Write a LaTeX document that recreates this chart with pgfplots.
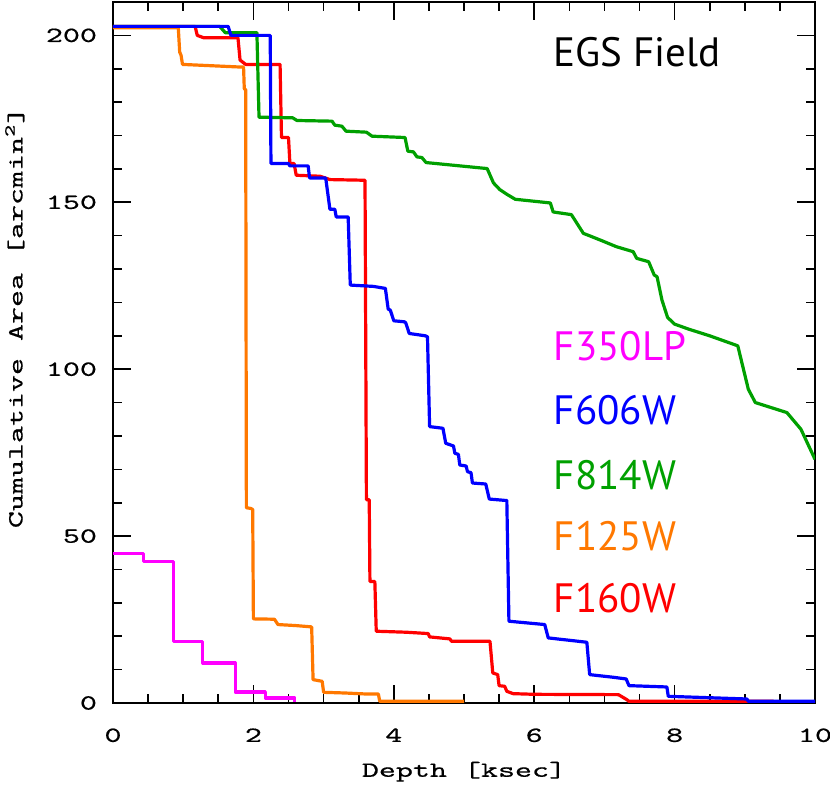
\documentclass[border=0pt]{standalone}
\usepackage{fontspec}
\setmainfont{PT Sans}
\newfontfamily\smfont{Latin Modern Mono}[FakeStretch=1.5, FakeBold=0.6]
\usepackage{pgfplots}
\pgfplotsset{compat=1.18}

\definecolor{cmag}{RGB}{255,0,255}
\definecolor{cblue}{RGB}{0,0,255}
\definecolor{cgreen}{RGB}{0,160,0}
\definecolor{corange}{RGB}{255,120,0}
\definecolor{cred}{RGB}{255,0,0}

\begin{document}
\begin{tikzpicture}
\begin{axis}[
    width=351pt, height=350.5pt, scale only axis,
    xmin=0, xmax=10, ymin=0, ymax=210,
    xtick={0,2,...,10}, minor x tick num=3,
    ytick={0,50,...,200}, minor y tick num=4,
    tick align=inside,
    major tick length=9pt, minor tick length=4.5pt,
    every tick/.style={black, line width=0.8pt},
    axis line style={line width=1.2pt},
    tick label style={font=\smfont\fontsize{10.8}{12}\selectfont},
    /pgf/number format/assume math mode=true,
    xticklabel style={yshift=-9.2pt},
    yticklabel style={xshift=-4.5pt},
    label style={font=\smfont\fontsize{10.8}{12}\selectfont},
    xlabel={Depth [ksec]},
    ylabel={Cumulative Area [arcmin\textsuperscript{2}]},
    xlabel style={at={(axis description cs:0.5,-0.098)}, anchor=center},
    ylabel style={at={(axis description cs:-0.14,0.55)}, anchor=center},
    every axis plot/.append style={line width=1.6pt, line join=round},
]
% F350LP
\addplot[cmag] coordinates {
(0,44.7)(0.43,44.7)(0.43,42.3)(0.86,42.3)(0.86,18.5)(1.28,18.5)(1.28,12.0)
(1.74,12.0)(1.74,3.3)(2.17,3.3)(2.17,1.5)(2.59,1.5)(2.59,0.3)};
% F125W
\addplot[corange] coordinates {
(0,202.3)(0.93,202.3)(0.95,195)(0.97,194)(0.99,191.3)(1.83,190.5)(1.86,190.5)
(1.87,184)(1.89,183.7)(1.90,58.5)(1.96,58.3)(1.99,58)(2.0,25.2)(2.30,25.1)
(2.35,23.5)(2.6,23.2)(2.83,22.8)(2.85,7.0)(2.98,6.5)(3.0,3.2)(3.3,3.0)
(3.6,2.7)(3.78,2.7)(3.8,0.5)(5.0,0.5)};
% F160W
\addplot[cred] coordinates {
(0,202.7)(1.17,202.7)(1.20,200)(1.29,199.3)(1.78,199.3)(1.81,192.6)(1.89,191.3)
(2.38,191.3)(2.40,169.4)(2.50,169.4)(2.52,161.6)(2.58,161.6)(2.61,158.1)
(2.95,157.8)(3.09,156.8)(3.59,156.6)(3.61,60.9)(3.65,60.9)(3.66,36.4)
(3.73,36.4)(3.75,21.5)(4.18,21.2)(4.49,20.8)(4.51,19.8)(4.80,19.2)(4.82,18.5)
(5.37,18.5)(5.41,9.0)(5.48,8.5)(5.50,5.2)(5.58,5.0)(5.61,3.5)(5.70,2.8)
(6.0,2.6)(7.20,2.5)(7.32,1.0)(7.35,0.5)(9.41,0.5)};
% F814W
\addplot[cgreen] coordinates {
(0,202.7)(1.52,202.7)(1.60,200.8)(2.05,200.8)(2.08,175.5)(2.56,175.3)
(2.62,174.5)(3.12,174.3)(3.16,173.1)(3.26,172.8)(3.32,171.3)(3.61,171.0)
(3.69,169.8)(4.16,169.4)(4.20,165.3)(4.28,165.1)(4.33,163.6)(4.40,163.4)
(4.46,161.9)(5.33,160.1)(5.42,155.8)(5.51,153.8)(5.61,152.4)(5.73,150.9)
(6.23,149.8)(6.27,147.1)(6.53,146.3)(6.70,140.7)(6.94,138.7)(7.17,136.7)
(7.41,135.2)(7.46,133.2)(7.63,132.2)(7.71,128.2)(7.75,127.7)(7.82,120.7)
(7.9,115.5)(8.0,113.5)(8.2,112)(8.5,110)(8.9,107)(9.05,94)(9.15,90)(9.6,87)(9.8,82)(10,73)};
% F606W
\addplot[cblue] coordinates {
(0,202.7)(1.64,202.7)(1.68,200)(2.24,200)(2.25,161.6)(2.50,161.6)(2.52,160.9)
(2.78,160.9)(2.80,157.3)(3.03,157.3)(3.09,147.9)(3.16,147.9)(3.18,145.6)
(3.35,145.6)(3.38,125.2)(3.71,124.8)(3.88,124.2)(3.92,118)(3.95,117.7)
(4.00,114.5)(4.15,114.2)(4.17,113.9)(4.22,110.7)(4.45,110.0)(4.48,109.7)
(4.51,82.8)(4.70,82.3)(4.74,77.8)(4.85,77.0)(4.87,74.8)(4.92,74.5)(4.94,71.3)
(5.03,71.0)(5.05,69.3)(5.10,69.0)(5.12,65.9)(5.31,65.6)(5.36,61.1)(5.58,60.7)
(5.61,60.7)(5.64,24.5)(6.15,23.5)(6.20,19.5)(6.75,18.2)(6.79,8.5)(7.13,7.7)
(7.31,7.2)(7.35,5.2)(7.89,4.8)(7.91,2.0)(9.03,1.2)(9.05,0.5)(10,0.5)};

\node[anchor=west, font=\fontsize{20.5}{24}\selectfont] at (axis cs:6.18,194.9) {EGS Field};
\node[anchor=west, text=cmag, font=\fontsize{20.5}{24}\selectfont] at (axis cs:6.18,107) {F350LP};
\node[anchor=west, text=cblue, font=\fontsize{20.5}{24}\selectfont] at (axis cs:6.18,87.7) {F606W};
\node[anchor=west, text=cgreen, font=\fontsize{20.5}{24}\selectfont] at (axis cs:6.18,68.4) {F814W};
\node[anchor=west, text=corange, font=\fontsize{20.5}{24}\selectfont] at (axis cs:6.18,50.1) {F125W};
\node[anchor=west, text=cred, font=\fontsize{20.5}{24}\selectfont] at (axis cs:6.18,31.3) {F160W};
\end{axis}
\pgfresetboundingbox
\path[use as bounding box] ([xshift=-56.5pt,yshift=-42pt]current axis.south west)
    rectangle ([xshift=7.5pt,yshift=1pt]current axis.north east);
\end{tikzpicture}
\end{document}
